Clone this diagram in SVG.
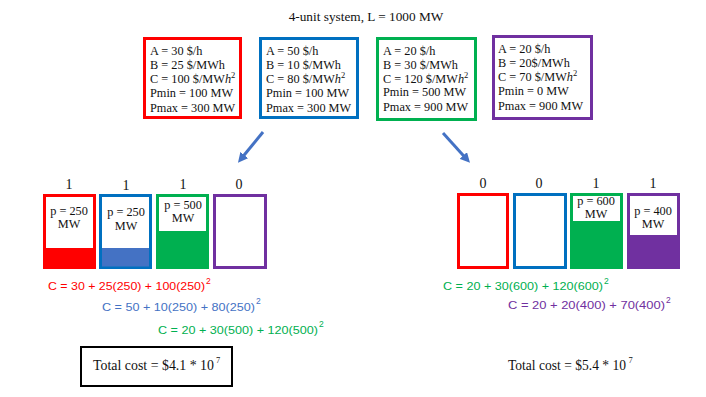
<svg xmlns="http://www.w3.org/2000/svg" width="706" height="397" viewBox="0 0 706 397">
<style>
.s{font-family:"Liberation Serif","Times New Roman",serif;fill:#111}
.b{font-size:12.3px}
.f{font-family:"Liberation Sans",Arial,sans-serif;font-size:11.5px}
.sup{font-size:8.5px}
.c{text-anchor:middle}
.r{stroke:#FF0000}.bl{stroke:#0070C0}.g{stroke:#00B050}.p{stroke:#7030A0}
.box{fill:#fff;stroke-width:3}
</style>
<defs>
<marker id="ah" viewBox="0 0 10 10" refX="1" refY="5" markerWidth="3.3" markerHeight="3.3" orient="auto" markerUnits="strokeWidth">
<path d="M0,0 L10,5 L0,10 z" fill="#4472C4"/>
</marker>
</defs>
<rect width="706" height="397" fill="#fff"/>
<text class="s c" x="366" y="21" font-size="13.3">4-unit system, L = 1000 MW</text>

<g id="unit1">
<rect class="box r" x="144.5" y="38.5" width="96" height="79"/>
<text class="s b" x="150" y="55">A = 30 $/h</text>
<text class="s b" x="150" y="69">B = 25 $/MWh</text>
<text class="s b" x="150" y="83">C = 100 $/MW<tspan font-style="italic">h</tspan><tspan class="sup" dy="-5">2</tspan></text>
<text class="s b" x="150" y="97">Pmin = 100 MW</text>
<text class="s b" x="150" y="111.5">Pmax = 300 MW</text>
</g>
<g id="unit2">
<rect class="box bl" x="260.5" y="38.5" width="97" height="79"/>
<text class="s b" x="266" y="55">A = 50 $/h</text>
<text class="s b" x="266" y="69">B = 10 $/MWh</text>
<text class="s b" x="266" y="83">C = 80 $/MW<tspan font-style="italic">h</tspan><tspan class="sup" dy="-5">2</tspan></text>
<text class="s b" x="266" y="97">Pmin = 100 MW</text>
<text class="s b" x="266" y="111.5">Pmax = 300 MW</text>
</g>
<g id="unit3">
<rect class="box g" x="377.5" y="38.5" width="98" height="81"/>
<text class="s b" x="383" y="54.5">A = 20 $/h</text>
<text class="s b" x="383" y="68.5">B = 30 $/MWh</text>
<text class="s b" x="383" y="82.5">C = 120 $/MW<tspan font-style="italic">h</tspan><tspan class="sup" dy="-5">2</tspan></text>
<text class="s b" x="383" y="96">Pmin = 500 MW</text>
<text class="s b" x="383" y="111">Pmax = 900 MW</text>
</g>
<g id="unit4">
<rect class="box p" x="493.5" y="36.5" width="98" height="82"/>
<text class="s b" x="498" y="53">A = 20 $/h</text>
<text class="s b" x="498" y="67">B = 20$/MWh</text>
<text class="s b" x="498" y="81">C = 70 $/MW<tspan font-style="italic">h</tspan><tspan class="sup" dy="-5">2</tspan></text>
<text class="s b" x="498" y="95">Pmin = 0 MW</text>
<text class="s b" x="498" y="110">Pmax = 900 MW</text>
</g>

<g id="connectors" stroke="#4472C4" stroke-width="3" fill="none">
<line x1="263" y1="132" x2="243.6" y2="155.8" marker-end="url(#ah)"/>
<line x1="443" y1="133" x2="464" y2="156.2" marker-end="url(#ah)"/>
</g>

<g id="left-solution">
<g id="L1">
<text class="s c" x="69" y="189" font-size="14">1</text>
<rect class="box r" x="44.5" y="195.5" width="50" height="72"/>
<rect x="44" y="248" width="51" height="20" fill="#FF0000"/>
<text class="s b c" x="69" y="215">p = 250</text>
<text class="s b c" x="69" y="228">MW</text>
</g>
<g id="L2">
<text class="s c" x="126" y="190" font-size="14">1</text>
<rect class="box bl" x="100.5" y="195.5" width="50" height="72"/>
<rect x="102" y="248" width="47" height="18.5" fill="#4472C4"/>
<text class="s b c" x="126" y="216">p = 250</text>
<text class="s b c" x="126" y="230">MW</text>
</g>
<g id="L3">
<text class="s c" x="183" y="189" font-size="14">1</text>
<rect class="box g" x="157.5" y="195.5" width="50" height="72"/>
<rect x="157" y="231" width="51" height="37" fill="#00B050"/>
<text class="s b c" x="183" y="209">p = 500</text>
<text class="s b c" x="183" y="222">MW</text>
</g>
<g id="L4">
<text class="s c" x="239" y="189" font-size="14">0</text>
<rect class="box p" x="214.5" y="195.5" width="51" height="72"/>
</g>
</g>

<g id="right-solution">
<g id="R1">
<text class="s c" x="483" y="188" font-size="14">0</text>
<rect class="box r" x="458.5" y="194.5" width="49" height="73"/>
</g>
<g id="R2">
<text class="s c" x="539" y="188" font-size="14">0</text>
<rect class="box bl" x="514.5" y="194.5" width="51" height="73"/>
</g>
<g id="R3">
<text class="s c" x="596" y="188" font-size="14">1</text>
<rect class="box g" x="571.5" y="194.5" width="50" height="73"/>
<rect x="571" y="221" width="51" height="47" fill="#00B050"/>
<text class="s b c" x="596" y="205">p = 600</text>
<text class="s b c" x="596" y="218">MW</text>
</g>
<g id="R4">
<text class="s c" x="653" y="188" font-size="14">1</text>
<rect class="box p" x="628.5" y="194.5" width="50" height="73"/>
<rect x="628" y="235" width="51" height="33" fill="#7030A0"/>
<text class="s b c" x="653" y="215">p = 400</text>
<text class="s b c" x="653" y="228">MW</text>
</g>
</g>

<g id="formulas">
<text class="f" x="48" y="290" fill="#FF0000" textLength="157" lengthAdjust="spacingAndGlyphs">C = 30 + 25(250) + 100(250)</text>
<text class="f sup" x="206" y="284" fill="#FF0000">2</text>
<text class="f" x="102" y="311" fill="#4472C4" textLength="153" lengthAdjust="spacingAndGlyphs">C = 50 + 10(250) + 80(250)</text>
<text class="f sup" x="256" y="304" fill="#4472C4">2</text>
<text class="f" x="158" y="334" fill="#00B050" textLength="160" lengthAdjust="spacingAndGlyphs">C = 20 + 30(500) + 120(500)</text>
<text class="f sup" x="319" y="327" fill="#00B050">2</text>
<text class="f" x="443" y="290" fill="#00B050" textLength="160" lengthAdjust="spacingAndGlyphs">C = 20 + 30(600) + 120(600)</text>
<text class="f sup" x="604" y="284" fill="#00B050">2</text>
<text class="f" x="508" y="309" fill="#7030A0" textLength="157" lengthAdjust="spacingAndGlyphs">C = 20 + 20(400) + 70(400)</text>
<text class="f sup" x="666" y="303" fill="#7030A0">2</text>
</g>

<g id="total-left">
<rect x="81" y="347" width="151" height="39" fill="#fff" stroke="#000" stroke-width="2"/>
<text class="s" x="93" y="370" font-size="14" textLength="121" lengthAdjust="spacingAndGlyphs">Total cost = $4.1 * 10</text>
<text class="s sup" x="216" y="363">7</text>
</g>
<g id="total-right">
<text class="s" x="508" y="370" font-size="14" textLength="118" lengthAdjust="spacingAndGlyphs">Total cost = $5.4 * 10</text>
<text class="s sup" x="628.5" y="363">7</text>
</g>
</svg>
